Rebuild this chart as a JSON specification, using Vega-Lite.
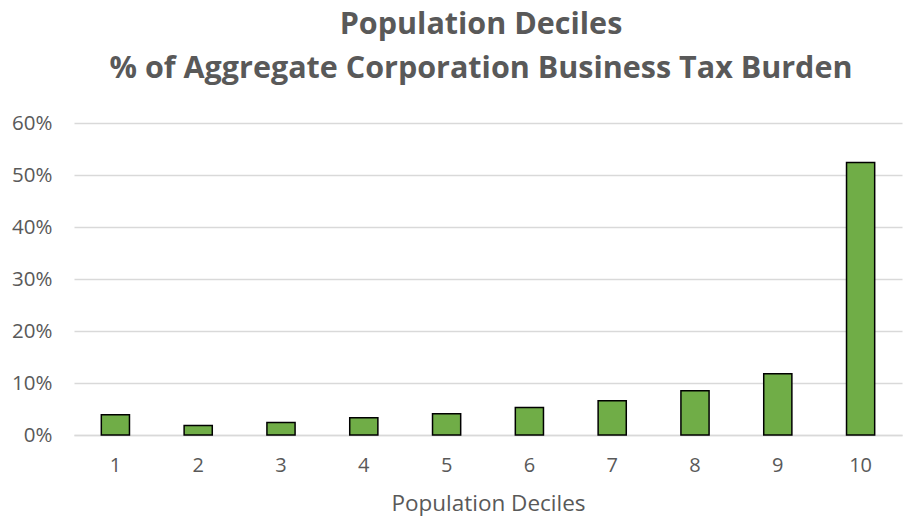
{
  "$schema": "https://vega.github.io/schema/vega-lite/v6.json",
  "autosize": {"type": "none"},
  "width": 828,
  "height": 312,
  "padding": {"left": 74, "top": 123, "right": 12, "bottom": 84},
  "background": "white",
  "title": {
    "text": ["Population Deciles", "% of Aggregate Corporation Business Tax Burden"],
    "font": "Open Sans",
    "fontSize": 30.5,
    "fontWeight": "bold",
    "color": "#595959",
    "lineHeight": 44,
    "baseline": "alphabetic",
    "anchor": "middle",
    "offset": 5,
    "dx": -7
  },
  "data": {
    "values": [
      {"decile": "1", "share": 0.039},
      {"decile": "2", "share": 0.0185},
      {"decile": "3", "share": 0.024},
      {"decile": "4", "share": 0.033},
      {"decile": "5", "share": 0.041},
      {"decile": "6", "share": 0.053},
      {"decile": "7", "share": 0.066},
      {"decile": "8", "share": 0.085},
      {"decile": "9", "share": 0.118},
      {"decile": "10", "share": 0.524}
    ]
  },
  "mark": {"type": "bar", "color": "#70ad47", "stroke": "#000000", "strokeWidth": 1.5},
  "encoding": {
    "x": {
      "field": "decile",
      "type": "ordinal",
      "sort": null,
      "title": "Population Deciles",
      "scale": {"paddingInner": 0.66, "paddingOuter": 0.33},
      "axis": {
        "labelAngle": 0,
        "labelFont": "Open Sans",
        "labelFontSize": 20,
        "labelColor": "#595959",
        "labelPadding": 20,
        "ticks": false,
        "domainColor": "#d9d9d9",
        "domainWidth": 1.5,
        "titleFont": "Open Sans",
        "titleFontSize": 22.5,
        "titleFontWeight": "normal",
        "titleColor": "#595959",
        "titlePadding": 17
      }
    },
    "y": {
      "field": "share",
      "type": "quantitative",
      "title": null,
      "scale": {"domain": [0, 0.6]},
      "axis": {
        "values": [0, 0.1, 0.2, 0.3, 0.4, 0.5, 0.6],
        "format": ".0%",
        "labelFont": "Open Sans",
        "labelFontSize": 20.5,
        "labelColor": "#595959",
        "labelPadding": 22,
        "ticks": false,
        "domain": false,
        "gridColor": "#d9d9d9",
        "gridWidth": 1.5
      }
    }
  },
  "config": {"view": {"stroke": null}}
}
